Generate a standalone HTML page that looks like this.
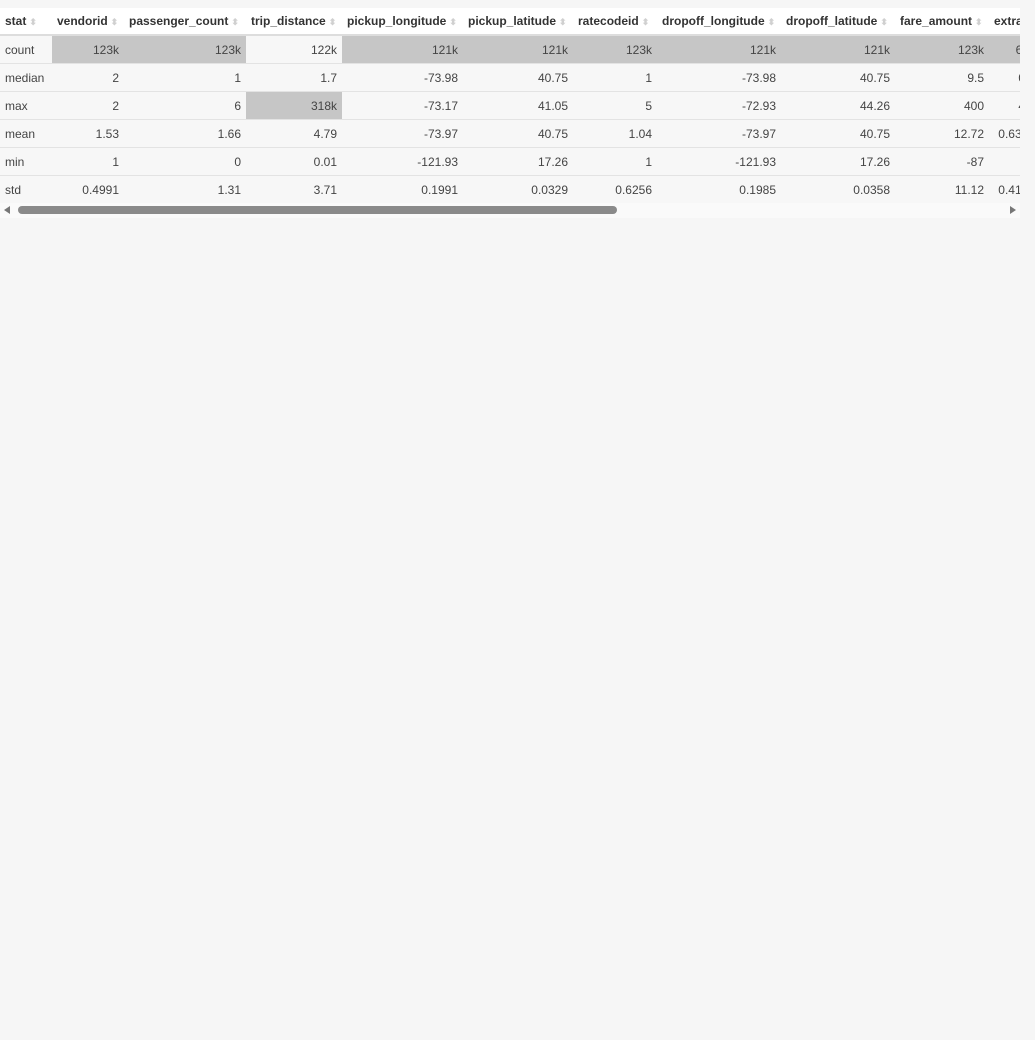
<!DOCTYPE html>
<html><head><meta charset="utf-8"><style>
html,body{margin:0;padding:0;background:#f6f6f6;width:1035px;height:1040px;overflow:hidden;font-family:"Liberation Sans",sans-serif;}
#wrap{position:absolute;left:0;top:8px;width:1020px;height:210px;overflow:hidden;background:#f7f7f7;}
table{border-collapse:collapse;table-layout:fixed;width:1040px;font-size:12px;color:#333;}
th{background:#fff;font-weight:bold;text-align:left;height:26px;padding:0 0 0 5px;white-space:nowrap;overflow:hidden;border-bottom:2px solid #ddd;font-size:12px;}
th .s{color:#d0d0d0;font-size:9px;margin-left:3px;}
td{height:27px;padding:0 5px;text-align:right;white-space:nowrap;overflow:hidden;border-bottom:1px solid #e3e3e3;background:#f7f7f7;color:#444;}
td.l{text-align:left;}
td.h{background:#c6c6c6;}
#sb{position:absolute;left:0;top:203px;width:1020px;height:15px;background:#fafafa;}
#thumb{position:absolute;left:18px;top:3px;width:599px;height:8px;border-radius:4px;background:#8a8a8a;}
</style></head><body>
<div id="wrap">
<table>
<colgroup><col style="width:52px"><col style="width:72px"><col style="width:122px"><col style="width:96px"><col style="width:121px"><col style="width:110px"><col style="width:84px"><col style="width:124px"><col style="width:114px"><col style="width:94px"><col style="width:51px"></colgroup>
<tr>
<th>stat<span class="s">⬍</span></th>
<th>vendorid<span class="s">⬍</span></th>
<th>passenger_count<span class="s">⬍</span></th>
<th>trip_distance<span class="s">⬍</span></th>
<th>pickup_longitude<span class="s">⬍</span></th>
<th>pickup_latitude<span class="s">⬍</span></th>
<th>ratecodeid<span class="s">⬍</span></th>
<th>dropoff_longitude<span class="s">⬍</span></th>
<th>dropoff_latitude<span class="s">⬍</span></th>
<th>fare_amount<span class="s">⬍</span></th>
<th>extra<span class="s">⬍</span></th>
</tr>
<tr><td class="l">count</td><td class="h">123k</td><td class="h">123k</td><td>122k</td><td class="h">121k</td><td class="h">121k</td><td class="h">123k</td><td class="h">121k</td><td class="h">121k</td><td class="h">123k</td><td class="h">61k</td></tr>
<tr><td class="l">median</td><td>2</td><td>1</td><td>1.7</td><td>-73.98</td><td>40.75</td><td>1</td><td>-73.98</td><td>40.75</td><td>9.5</td><td>0.5</td></tr>
<tr><td class="l">max</td><td>2</td><td>6</td><td class="h">318k</td><td>-73.17</td><td>41.05</td><td>5</td><td>-72.93</td><td>44.26</td><td>400</td><td>4.5</td></tr>
<tr><td class="l">mean</td><td>1.53</td><td>1.66</td><td>4.79</td><td>-73.97</td><td>40.75</td><td>1.04</td><td>-73.97</td><td>40.75</td><td>12.72</td><td>0.6318</td></tr>
<tr><td class="l">min</td><td>1</td><td>0</td><td>0.01</td><td>-121.93</td><td>17.26</td><td>1</td><td>-121.93</td><td>17.26</td><td>-87</td><td>0</td></tr>
<tr><td class="l">std</td><td>0.4991</td><td>1.31</td><td>3.71</td><td>0.1991</td><td>0.0329</td><td>0.6256</td><td>0.1985</td><td>0.0358</td><td>11.12</td><td>0.4188</td></tr>
</table>
</div>
<div id="sb">
<svg width="1020" height="15" style="position:absolute;left:0;top:0"><polygon points="4,7 10,3 10,11" fill="#777"/><polygon points="1016,7 1010,3 1010,11" fill="#777"/></svg>
<div id="thumb"></div>
</div>
</body></html>
